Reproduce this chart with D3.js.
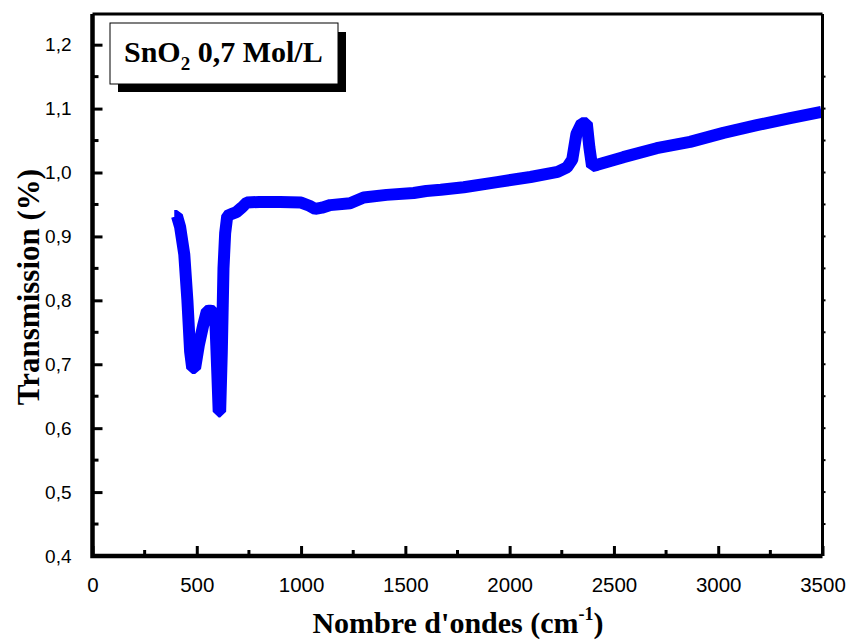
<!DOCTYPE html>
<html>
<head>
<meta charset="utf-8">
<script src="https://cdn.jsdelivr.net/npm/d3@7"></script>
<style>
  body { margin: 0; background: #fff; }
  svg { display: block; }
</style>
</head>
<body>
<svg id="chart" width="849" height="641"></svg>
<script>
// wavenumber (cm-1) and transmission
const waveNumbers = [392, 405, 420, 440, 455, 468, 478, 492, 510, 530, 548, 562, 578, 590, 598, 605, 612, 620, 628, 636, 646, 665, 690, 715, 740,
  800, 900, 1000, 1040, 1068, 1100, 1140, 1235, 1300, 1410, 1540, 1600, 1670, 1780, 1940, 2100, 2230, 2275, 2300, 2320, 2345, 2370, 2382, 2395,
  2420, 2545, 2705, 2865, 3025, 3185, 3345, 3495];
const transmission = [0.932, 0.932, 0.915, 0.872, 0.80, 0.72, 0.694, 0.694, 0.73, 0.76, 0.783, 0.784, 0.783, 0.76, 0.69, 0.626, 0.626, 0.72, 0.85, 0.905, 0.932, 0.935, 0.938, 0.945, 0.953,
  0.954, 0.954, 0.953, 0.948, 0.943, 0.945, 0.949, 0.952, 0.961, 0.965, 0.968, 0.971, 0.973, 0.977, 0.985, 0.993, 1.001, 1.008, 1.02, 1.06, 1.077, 1.077, 1.04, 1.01,
  1.012, 1.024, 1.038, 1.048, 1.062, 1.074, 1.085, 1.095];

const xTicks = [0, 500, 1000, 1500, 2000, 2500, 3000, 3500];
const yTicks = [0.4, 0.5, 0.6, 0.7, 0.8, 0.9, 1.0, 1.1, 1.2];

const svg = d3.select("#chart");
const m = { left: 92.5, right: 822.5, top: 14, bottom: 556 };

const x = d3.scaleLinear().domain([0, 3500]).range([m.left, m.right]);
const y = d3.scaleLinear().domain([0.4, 1.248]).range([m.bottom, m.top]);

const comma = v => d3.format(".1f")(v).replace(".", ",");
const tickFont = "'Liberation Sans', Arial, sans-serif";
const titleFont = "'Liberation Serif', 'Times New Roman', serif";

// data line
const points = waveNumbers.map((w, i) => [w, transmission[i]]);
svg.append("path")
  .datum(points)
  .attr("fill", "none")
  .attr("stroke", "#0000ff")
  .attr("stroke-width", 12)
  .attr("stroke-linejoin", "bevel")
  .attr("d", d3.line().x(d => x(d[0])).y(d => y(d[1])));

// frame top / right
svg.append("line").attr("x1", m.left).attr("x2", m.right).attr("y1", m.top).attr("y2", m.top)
  .attr("stroke", "#000").attr("stroke-width", 3);
svg.append("line").attr("x1", m.right).attr("x2", m.right).attr("y1", m.top).attr("y2", m.bottom)
  .attr("stroke", "#000").attr("stroke-width", 3);

// bottom axis
const xAxis = svg.append("g").attr("transform", `translate(0,${m.bottom})`)
  .call(d3.axisBottom(x).tickValues(xTicks).tickSize(-10).tickPadding(21).tickFormat(d3.format("d")));
xAxis.select(".domain").remove();
xAxis.selectAll(".tick line").attr("stroke-width", 3);
xAxis.selectAll("text").attr("font-family", tickFont).attr("font-size", 20.5).attr("fill", "#000");
svg.append("g").selectAll("line")
  .data(d3.range(250, 3500, 500)).join("line")
  .attr("x1", d => x(d)).attr("x2", d => x(d))
  .attr("y1", m.bottom).attr("y2", m.bottom - 6)
  .attr("stroke", "#000").attr("stroke-width", 3);

// left axis
const yAxis = svg.append("g").attr("transform", `translate(${m.left},0)`)
  .call(d3.axisLeft(y).tickValues(yTicks).tickSize(-10).tickPadding(21).tickFormat(comma));
yAxis.select(".domain").remove();
yAxis.selectAll(".tick line").attr("stroke-width", 3);
yAxis.selectAll("text").attr("font-family", tickFont).attr("font-size", 19).attr("fill", "#000");
svg.append("g").selectAll("line")
  .data(d3.range(0.45, 1.2, 0.1)).join("line")
  .attr("x1", m.left).attr("x2", m.left + 6)
  .attr("y1", d => y(d)).attr("y2", d => y(d))
  .attr("stroke", "#000").attr("stroke-width", 3);

// small outside ticks on the right frame
svg.append("g").selectAll("line")
  .data(d3.range(1.15, 0.4, -0.05)).join("line")
  .attr("x1", m.right).attr("x2", m.right + 3)
  .attr("y1", d => y(d)).attr("y2", d => y(d))
  .attr("stroke", "#000").attr("stroke-width", 2);

// axis lines
svg.append("path")
  .attr("d", `M${m.left},${m.top}V${m.bottom}H${m.right}`)
  .attr("fill", "none").attr("stroke", "#000").attr("stroke-width", 4.5);

// axis titles
const xt = svg.append("text")
  .attr("x", 458).attr("y", 633)
  .attr("text-anchor", "middle")
  .attr("font-family", titleFont).attr("font-weight", "bold").attr("font-size", 30);
xt.append("tspan").text("Nombre d'ondes (cm");
xt.append("tspan").attr("dy", -13).attr("font-size", 18).text("-1");
xt.append("tspan").attr("dy", 13).text(")");

svg.append("text")
  .attr("transform", "translate(39,287) rotate(-90)")
  .attr("text-anchor", "middle")
  .attr("font-family", titleFont).attr("font-weight", "bold").attr("font-size", 31)
  .text("Transmission (%)");

// legend box with shadow
svg.append("rect").attr("x", 118).attr("y", 32).attr("width", 228).attr("height", 60).attr("fill", "#000");
svg.append("rect").attr("x", 110).attr("y", 23).attr("width", 228).attr("height", 61)
  .attr("fill", "#fff").attr("stroke", "#000").attr("stroke-width", 1);
const lg = svg.append("text")
  .attr("x", 124).attr("y", 62)
  .attr("font-family", titleFont).attr("font-weight", "bold").attr("font-size", 30);
lg.append("tspan").text("SnO");
lg.append("tspan").attr("dy", 8).attr("font-size", 19).text("2");
lg.append("tspan").attr("dy", -8).text(" 0,7 Mol/L");
</script>
</body>
</html>
